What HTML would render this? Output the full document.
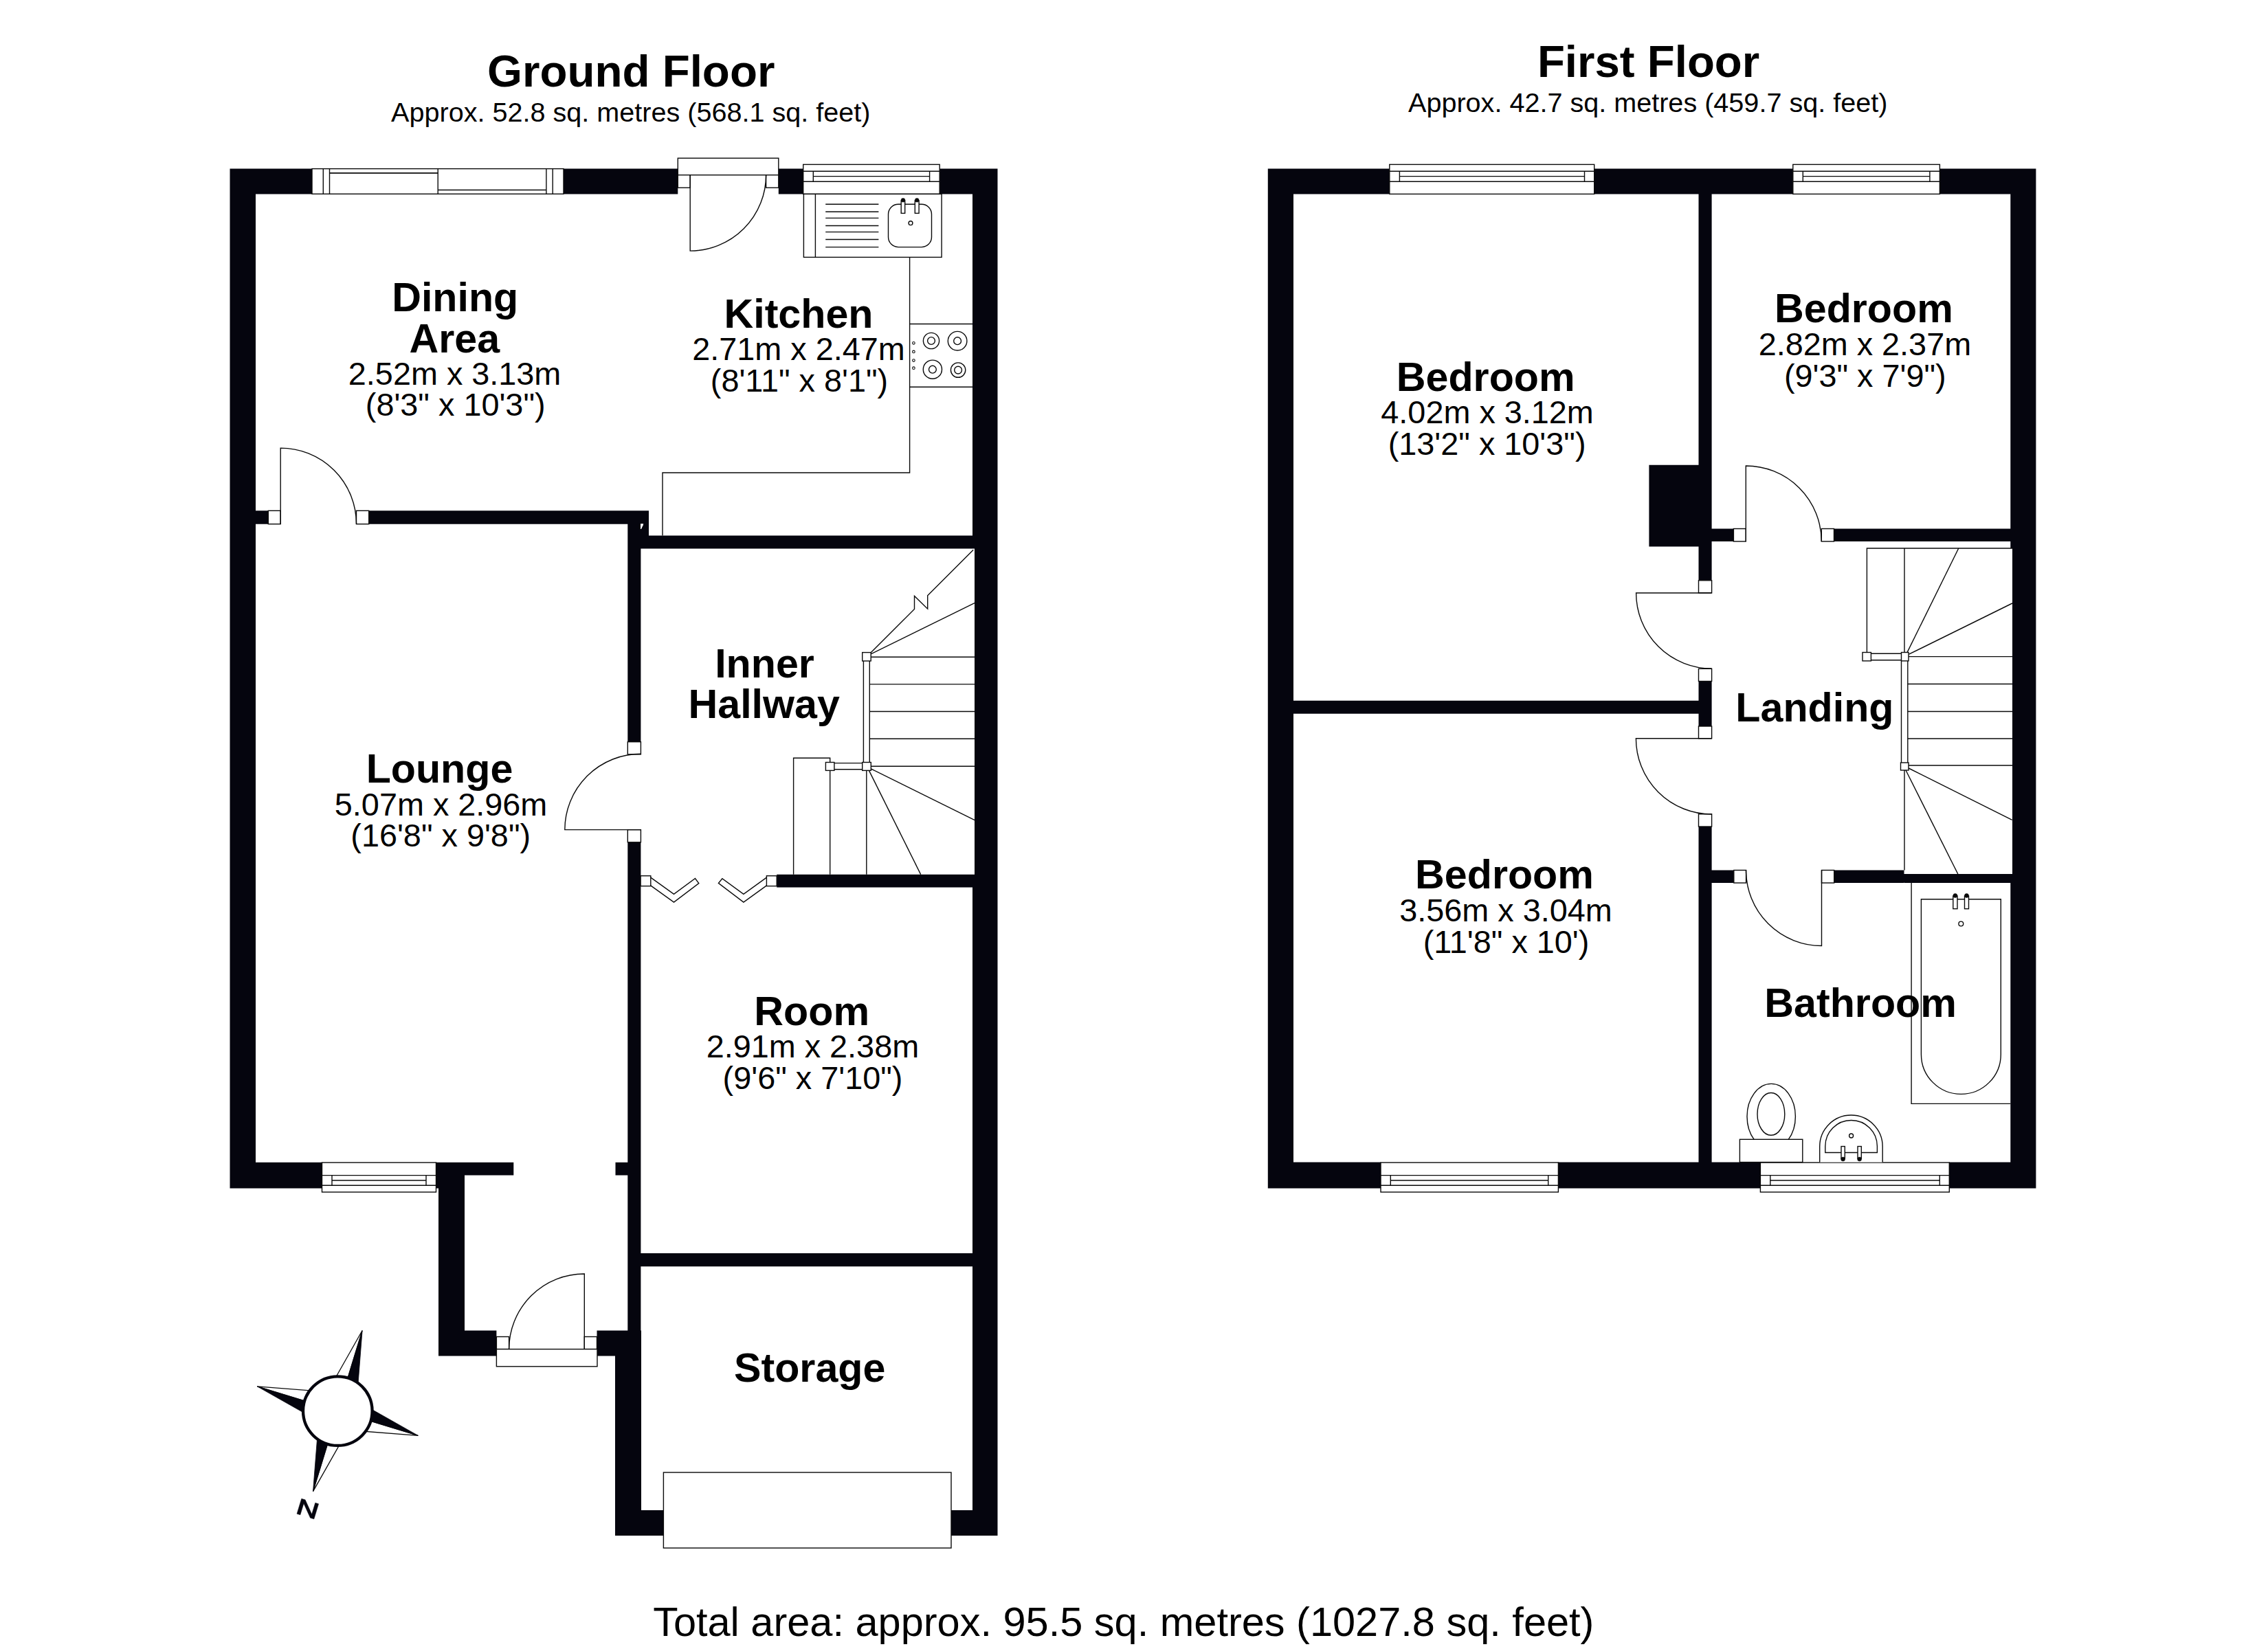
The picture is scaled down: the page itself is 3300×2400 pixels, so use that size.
<!DOCTYPE html>
<html><head><meta charset="utf-8"><title>Floor Plan</title>
<style>
html,body{margin:0;padding:0;background:#fff;}
body{width:3300px;height:2400px;overflow:hidden;}
svg{display:block;}
text{font-family:"Liberation Sans",sans-serif;fill:#000;}
</style></head><body>
<svg width="3300" height="2400" viewBox="0 0 3300 2400">
<rect width="3300" height="2400" fill="#fff"/>
<path d="M334.5 245.5H454.0V282.4H334.5Z M820.0 245.5H986.3V282.4H820.0Z M1132.8 245.5H1168.7V282.4H1132.8Z M1367.2 245.5H1451.5V282.4H1367.2Z M334.5 245.5H372.0V1729.4H334.5Z M1415.0 245.5H1451.5V798.5H1415.0Z M1418.0 798.5H1451.5V1291.5H1418.0Z M1415.0 1291.5H1451.5V2235.0H1415.0Z M334.5 1691.8H468.5V1729.4H334.5Z M634.5 1691.8H747.3V1710.6H634.5Z M634.5 1691.8H676.0V1729.4H634.5Z M638.0 1691.8H676.0V1973.6H638.0Z M638.0 1936.4H722.4V1973.6H638.0Z M868.5 1936.4H913.3V1973.6H868.5Z M895.0 1936.4H933.0V2235.0H895.0Z M895.5 1691.8H913.3V1710.6H895.5Z M895.0 2198.0H1451.5V2235.0H895.0Z M372.0 743.3H390.3V762.7H372.0Z M536.7 743.3H944.0V762.7H536.7Z M913.3 743.3H944.0V798.5H913.3Z M932.0 779.5H1418.0V798.5H932.0Z M913.3 743.3H932.4V1079.7H913.3Z M913.3 1225.8H932.4V1936.4H913.3Z M1130.2 1272.7H1418.0V1291.4H1130.2Z M932.0 1824.0H1415.0V1843.3H932.0Z M1844.8 245.5H2021.8V282.4H1844.8Z M2319.7 245.5H2608.8V282.4H2319.7Z M2822.4 245.5H2962.4V282.4H2822.4Z M1844.8 245.5H1882.0V1729.4H1844.8Z M2925.3 245.5H2962.4V798.0H2925.3Z M2928.0 798.0H2962.4V1272.0H2928.0Z M2925.3 1272.0H2962.4V1729.4H2925.3Z M1844.8 1691.5H2009.0V1729.4H1844.8Z M2267.4 1691.5H2561.4V1729.4H2267.4Z M2836.3 1691.5H2962.4V1729.4H2836.3Z M2471.5 282.4H2490.6V844.8H2471.5Z M2471.5 991.5H2490.6V1057.0H2471.5Z M2471.5 1203.0H2490.6V1691.5H2471.5Z M2399.4 676.7H2471.5V795.5H2399.4Z M2490.6 769.5H2522.4V788.0H2490.6Z M2668.5 769.5H2926.0V788.0H2668.5Z M1882.0 1019.7H2471.5V1038.8H1882.0Z M2490.6 1266.5H2522.8V1285.0H2490.6Z M2668.7 1266.5H2770.5V1285.0H2668.7Z M2770.5 1272.0H2928.0V1285.0H2770.5Z" fill="#05050e"/>
<rect x="390.3" y="743.3" width="17.9" height="19.4" fill="#fff" stroke="#0a0a0a" stroke-width="1.4"/>
<rect x="518.5" y="743.3" width="18.2" height="19.4" fill="#fff" stroke="#0a0a0a" stroke-width="1.4"/>
<rect x="913.3" y="1079.7" width="19.1" height="18.2" fill="#fff" stroke="#0a0a0a" stroke-width="1.4"/>
<rect x="913.3" y="1207.6" width="19.1" height="18.2" fill="#fff" stroke="#0a0a0a" stroke-width="1.4"/>
<rect x="932.1" y="1274.7" width="14.7" height="14.9" fill="#fff" stroke="#0a0a0a" stroke-width="1.4"/>
<rect x="1115.4" y="1274.7" width="14.8" height="14.9" fill="#fff" stroke="#0a0a0a" stroke-width="1.4"/>
<rect x="986.3" y="230.2" width="146.5" height="24.5" fill="#fff" stroke="#0a0a0a" stroke-width="1.4"/>
<rect x="986.3" y="254.7" width="17.9" height="18.5" fill="#fff" stroke="#0a0a0a" stroke-width="1.4"/>
<rect x="1114.6" y="254.7" width="18.2" height="18.5" fill="#fff" stroke="#0a0a0a" stroke-width="1.4"/>
<rect x="722.4" y="1945.5" width="18.2" height="18.1" fill="#fff" stroke="#0a0a0a" stroke-width="1.4"/>
<rect x="850.3" y="1945.5" width="18.2" height="18.1" fill="#fff" stroke="#0a0a0a" stroke-width="1.4"/>
<rect x="722.4" y="1963.6" width="146.6" height="25.2" fill="#fff" stroke="#0a0a0a" stroke-width="1.4"/>
<path d="M1004.2 254.7 L1004.2 365.1 A110.4 110.4 0 0 0 1114.6 254.7" fill="none" stroke="#0a0a0a" stroke-width="1.4"/>
<path d="M408.2 762.7 L408.2 652.1 A110.4 110.4 0 0 1 518.5 762.7" fill="none" stroke="#0a0a0a" stroke-width="1.4"/>
<path d="M932.4 1207.6 L821.8 1207.6 A110.4 110.4 0 0 1 932.4 1097.3" fill="none" stroke="#0a0a0a" stroke-width="1.4"/>
<path d="M850.3 1963.6 L850.3 1854.0 A109.6 109.6 0 0 0 740.6 1963.6" fill="none" stroke="#0a0a0a" stroke-width="1.4"/>
<path d="M946.8 1277.1 L980.5 1301.4 L1011.5 1278.5 L1016.8 1285.6 L980.5 1313.1 L946.8 1288.9" fill="none" stroke="#0a0a0a" stroke-width="1.4"/>
<path d="M1115.4 1277.1 L1081.9 1301.4 L1050.9 1278.8 L1045.4 1285.4 L1081.9 1313.1 L1115.4 1288.9" fill="none" stroke="#0a0a0a" stroke-width="1.4"/>
<rect x="454.0" y="245.6" width="366.0" height="36.7" fill="#fff" stroke="#0a0a0a" stroke-width="1.4"/>
<path d="M470.3 245.6 L470.3 282.3" fill="none" stroke="#0a0a0a" stroke-width="1.4"/>
<path d="M479.5 245.6 L479.5 282.3" fill="none" stroke="#0a0a0a" stroke-width="1.4"/>
<path d="M637.2 245.6 L637.2 282.3" fill="none" stroke="#0a0a0a" stroke-width="1.4"/>
<path d="M794.9 245.6 L794.9 282.3" fill="none" stroke="#0a0a0a" stroke-width="1.4"/>
<path d="M804.2 245.6 L804.2 282.3" fill="none" stroke="#0a0a0a" stroke-width="1.4"/>
<path d="M479.5 251.8 L637.2 251.8" fill="none" stroke="#0a0a0a" stroke-width="1.8"/>
<path d="M637.2 276.5 L794.9 276.5" fill="none" stroke="#0a0a0a" stroke-width="1.6"/>
<rect x="1168.7" y="239.4" width="198.5" height="43.0" fill="#fff" stroke="#0a0a0a" stroke-width="1.4"/>
<path d="M1168.7 249.3 L1367.2 249.3" fill="none" stroke="#0a0a0a" stroke-width="1.4"/>
<path d="M1168.7 264.3 L1367.2 264.3" fill="none" stroke="#0a0a0a" stroke-width="1.4"/>
<path d="M1183.3 249.3 L1183.3 264.3" fill="none" stroke="#0a0a0a" stroke-width="1.4"/>
<path d="M1352.6 249.3 L1352.6 264.3" fill="none" stroke="#0a0a0a" stroke-width="1.4"/>
<path d="M1183.3 256.6 L1352.6 256.6" fill="none" stroke="#0a0a0a" stroke-width="1.4"/>
<rect x="468.5" y="1692.0" width="166.0" height="43.0" fill="#fff" stroke="#0a0a0a" stroke-width="1.4"/>
<path d="M468.5 1710.6 L634.5 1710.6" fill="none" stroke="#0a0a0a" stroke-width="1.4"/>
<path d="M468.5 1725.3 L634.5 1725.3" fill="none" stroke="#0a0a0a" stroke-width="1.4"/>
<path d="M483.0 1710.6 L483.0 1725.3" fill="none" stroke="#0a0a0a" stroke-width="1.4"/>
<path d="M620.0 1710.6 L620.0 1725.3" fill="none" stroke="#0a0a0a" stroke-width="1.4"/>
<path d="M483.0 1718.0 L620.0 1718.0" fill="none" stroke="#0a0a0a" stroke-width="1.4"/>
<rect x="965.4" y="2143.0" width="418.6" height="110.0" fill="#fff" stroke="#0a0a0a" stroke-width="1.4"/>
<rect x="1169.4" y="282.4" width="200.7" height="92.0" fill="#fff" stroke="#0a0a0a" stroke-width="1.4"/>
<path d="M1186.4 282.4 L1186.4 374.4" fill="none" stroke="#0a0a0a" stroke-width="1.4"/>
<path d="M1201.2 297.3 L1278.4 297.3" fill="none" stroke="#0a0a0a" stroke-width="1.4"/>
<path d="M1201.2 308.3 L1278.4 308.3" fill="none" stroke="#0a0a0a" stroke-width="1.4"/>
<path d="M1201.2 317.4 L1278.4 317.4" fill="none" stroke="#0a0a0a" stroke-width="1.4"/>
<path d="M1201.2 328.5 L1278.4 328.5" fill="none" stroke="#0a0a0a" stroke-width="1.4"/>
<path d="M1201.2 337.6 L1278.4 337.6" fill="none" stroke="#0a0a0a" stroke-width="1.4"/>
<path d="M1201.2 348.5 L1278.4 348.5" fill="none" stroke="#0a0a0a" stroke-width="1.4"/>
<path d="M1201.2 359.6 L1278.4 359.6" fill="none" stroke="#0a0a0a" stroke-width="1.4"/>
<rect x="1292.5" y="297.3" width="63" height="62.3" rx="14.6" fill="#fff" stroke="#0a0a0a" stroke-width="1.4"/>
<rect x="1311.2" y="292.0" width="5.5" height="18.4" fill="#fff" stroke="#0a0a0a" stroke-width="1.4"/>
<rect x="1331.3" y="292.0" width="5.8" height="18.4" fill="#fff" stroke="#0a0a0a" stroke-width="1.4"/>
<circle cx="1314.0" cy="291.3" r="2.9" fill="#0a0a0a" stroke="#0a0a0a" stroke-width="0.5"/>
<circle cx="1334.2" cy="291.3" r="2.9" fill="#0a0a0a" stroke="#0a0a0a" stroke-width="0.5"/>
<circle cx="1325.0" cy="324.7" r="2.9" fill="none" stroke="#0a0a0a" stroke-width="1.4"/>
<path d="M1323.6 374.4 L1323.6 688.0 L964.0 688.0 L964.0 779.5" fill="none" stroke="#0a0a0a" stroke-width="1.4"/>
<path d="M1323.6 471.5 L1415.0 471.5" fill="none" stroke="#0a0a0a" stroke-width="1.4"/>
<path d="M1323.6 563.3 L1415.0 563.3" fill="none" stroke="#0a0a0a" stroke-width="1.4"/>
<circle cx="1355.0" cy="496.0" r="11.6" fill="none" stroke="#0a0a0a" stroke-width="1.4"/>
<circle cx="1355.0" cy="496.0" r="5.4" fill="none" stroke="#0a0a0a" stroke-width="1.4"/>
<circle cx="1393.1" cy="496.2" r="13.8" fill="none" stroke="#0a0a0a" stroke-width="1.4"/>
<circle cx="1393.1" cy="496.2" r="5.4" fill="none" stroke="#0a0a0a" stroke-width="1.4"/>
<circle cx="1356.9" cy="537.7" r="13.6" fill="none" stroke="#0a0a0a" stroke-width="1.4"/>
<circle cx="1356.9" cy="537.7" r="5.4" fill="none" stroke="#0a0a0a" stroke-width="1.4"/>
<circle cx="1394.1" cy="538.6" r="10.7" fill="none" stroke="#0a0a0a" stroke-width="1.4"/>
<circle cx="1394.1" cy="538.6" r="5.4" fill="none" stroke="#0a0a0a" stroke-width="1.4"/>
<circle cx="1329.4" cy="499.3" r="1.8" fill="none" stroke="#0a0a0a" stroke-width="1.1"/>
<circle cx="1329.4" cy="511.9" r="1.8" fill="none" stroke="#0a0a0a" stroke-width="1.1"/>
<circle cx="1329.4" cy="524.6" r="1.8" fill="none" stroke="#0a0a0a" stroke-width="1.1"/>
<circle cx="1329.4" cy="535.7" r="1.8" fill="none" stroke="#0a0a0a" stroke-width="1.1"/>
<path d="M1416.2 800.2 L1349.7 866.7 L1349.7 886.2 L1330.5 867.5 L1330.5 886.5 L1267.2 949.8" fill="none" stroke="#0a0a0a" stroke-width="1.4"/>
<path d="M1418.1 877.6 L1267.2 951.8" fill="none" stroke="#0a0a0a" stroke-width="1.4"/>
<rect x="1254.7" y="949.6" width="12.5" height="12.4" fill="#fff" stroke="#0a0a0a" stroke-width="1.4"/>
<path d="M1256.4 962.0 L1256.4 1109.5" fill="none" stroke="#0a0a0a" stroke-width="1.4"/>
<path d="M1265.3 962.0 L1265.3 1109.5" fill="none" stroke="#0a0a0a" stroke-width="1.4"/>
<path d="M1267.2 956.2 L1418.0 956.2" fill="none" stroke="#0a0a0a" stroke-width="1.4"/>
<path d="M1265.3 995.9 L1418.0 995.9" fill="none" stroke="#0a0a0a" stroke-width="1.4"/>
<path d="M1265.3 1035.5 L1418.0 1035.5" fill="none" stroke="#0a0a0a" stroke-width="1.4"/>
<path d="M1265.3 1075.3 L1418.0 1075.3" fill="none" stroke="#0a0a0a" stroke-width="1.4"/>
<path d="M1267.3 1115.3 L1418.0 1115.3" fill="none" stroke="#0a0a0a" stroke-width="1.4"/>
<path d="M1213.9 1110.6 L1254.7 1110.6" fill="none" stroke="#0a0a0a" stroke-width="1.4"/>
<path d="M1213.9 1119.7 L1254.7 1119.7" fill="none" stroke="#0a0a0a" stroke-width="1.4"/>
<rect x="1254.7" y="1109.5" width="12.6" height="11.9" fill="#fff" stroke="#0a0a0a" stroke-width="1.4"/>
<rect x="1201.4" y="1109.5" width="12.5" height="11.9" fill="#fff" stroke="#0a0a0a" stroke-width="1.4"/>
<path d="M1260.8 1121.4 L1260.8 1272.7" fill="none" stroke="#0a0a0a" stroke-width="1.4"/>
<path d="M1267.3 1119.0 L1418.2 1193.6" fill="none" stroke="#0a0a0a" stroke-width="1.4"/>
<path d="M1264.4 1121.4 L1339.7 1272.7" fill="none" stroke="#0a0a0a" stroke-width="1.4"/>
<path d="M1154.6 1272.7 L1154.6 1103.2 L1207.7 1103.2 L1207.7 1109.5" fill="none" stroke="#0a0a0a" stroke-width="1.4"/>
<path d="M1207.7 1121.4 L1207.7 1272.7" fill="none" stroke="#0a0a0a" stroke-width="1.4"/>
<path d="M932 762.3 L936.2 762.3 L935.8 764.2 L933 770 L932 770 Z" fill="#fff" stroke="none" stroke-width="0"/>
<path d="M527.09 1936.55 L476.56 2025.88 L374.25 2017.81 L491.30 2053.60 Z" fill="#fff" stroke="#0a0a0a" stroke-width="1.3"/>
<path d="M608.35 2089.39 L506.04 2081.32 L455.51 2170.65 L491.30 2053.60 Z" fill="#fff" stroke="#0a0a0a" stroke-width="1.3"/>
<path d="M527.09 1936.55 L519.02 2038.86 L608.35 2089.39 L491.30 2053.60 Z" fill="#05050e" stroke="#05050e" stroke-width="0.8"/>
<path d="M455.51 2170.65 L463.58 2068.34 L374.25 2017.81 L491.30 2053.60 Z" fill="#05050e" stroke="#05050e" stroke-width="0.8"/>
<circle cx="491.3" cy="2053.6" r="50.3" fill="#fff" stroke="#05050e" stroke-width="4.3"/>
<path d="M432.01 2203.20 L438.73 2181.20 L444.09 2182.84 L453.66 2203.86 L458.72 2187.31 L463.59 2188.80 L456.87 2210.80 L451.51 2209.16 L441.94 2188.14 L436.88 2204.69 Z" fill="#05050e" stroke="#05050e" stroke-width="0.5"/>
<rect x="2471.5" y="844.8" width="19.1" height="18.2" fill="#fff" stroke="#0a0a0a" stroke-width="1.4"/>
<rect x="2471.5" y="973.3" width="19.1" height="18.2" fill="#fff" stroke="#0a0a0a" stroke-width="1.4"/>
<rect x="2471.5" y="1057.0" width="19.1" height="17.8" fill="#fff" stroke="#0a0a0a" stroke-width="1.4"/>
<rect x="2471.5" y="1184.8" width="19.1" height="18.2" fill="#fff" stroke="#0a0a0a" stroke-width="1.4"/>
<rect x="2522.4" y="769.5" width="17.9" height="18.5" fill="#fff" stroke="#0a0a0a" stroke-width="1.4"/>
<rect x="2650.3" y="769.5" width="18.2" height="18.5" fill="#fff" stroke="#0a0a0a" stroke-width="1.4"/>
<rect x="2522.8" y="1266.5" width="17.8" height="18.5" fill="#fff" stroke="#0a0a0a" stroke-width="1.4"/>
<rect x="2650.5" y="1266.5" width="18.2" height="18.5" fill="#fff" stroke="#0a0a0a" stroke-width="1.4"/>
<path d="M2490.6 863.0 L2380.6 863.0 A110.0 110.0 0 0 0 2490.6 973.0" fill="none" stroke="#0a0a0a" stroke-width="1.4"/>
<path d="M2490.6 1074.8 L2380.4 1074.8 A110.2 110.2 0 0 0 2490.6 1185.0" fill="none" stroke="#0a0a0a" stroke-width="1.4"/>
<path d="M2540.3 788.0 L2540.3 678.0 A110.0 110.0 0 0 1 2650.3 788.0" fill="none" stroke="#0a0a0a" stroke-width="1.4"/>
<path d="M2650.5 1266.5 L2650.5 1376.5 A110.0 110.0 0 0 1 2540.5 1266.5" fill="none" stroke="#0a0a0a" stroke-width="1.4"/>
<rect x="2021.8" y="239.4" width="297.9" height="43.0" fill="#fff" stroke="#0a0a0a" stroke-width="1.4"/>
<path d="M2021.8 249.3 L2319.7 249.3" fill="none" stroke="#0a0a0a" stroke-width="1.4"/>
<path d="M2021.8 264.3 L2319.7 264.3" fill="none" stroke="#0a0a0a" stroke-width="1.4"/>
<path d="M2036.4 249.3 L2036.4 264.3" fill="none" stroke="#0a0a0a" stroke-width="1.4"/>
<path d="M2305.5 249.3 L2305.5 264.3" fill="none" stroke="#0a0a0a" stroke-width="1.4"/>
<path d="M2036.4 256.6 L2305.5 256.6" fill="none" stroke="#0a0a0a" stroke-width="1.4"/>
<rect x="2608.8" y="239.4" width="213.6" height="43.0" fill="#fff" stroke="#0a0a0a" stroke-width="1.4"/>
<path d="M2608.8 249.3 L2822.4 249.3" fill="none" stroke="#0a0a0a" stroke-width="1.4"/>
<path d="M2608.8 264.3 L2822.4 264.3" fill="none" stroke="#0a0a0a" stroke-width="1.4"/>
<path d="M2623.3 249.3 L2623.3 264.3" fill="none" stroke="#0a0a0a" stroke-width="1.4"/>
<path d="M2807.9 249.3 L2807.9 264.3" fill="none" stroke="#0a0a0a" stroke-width="1.4"/>
<path d="M2623.3 256.6 L2807.9 256.6" fill="none" stroke="#0a0a0a" stroke-width="1.4"/>
<rect x="2009.0" y="1692.0" width="258.4" height="43.0" fill="#fff" stroke="#0a0a0a" stroke-width="1.4"/>
<path d="M2009.0 1710.6 L2267.4 1710.6" fill="none" stroke="#0a0a0a" stroke-width="1.4"/>
<path d="M2009.0 1725.3 L2267.4 1725.3" fill="none" stroke="#0a0a0a" stroke-width="1.4"/>
<path d="M2023.3 1710.6 L2023.3 1725.3" fill="none" stroke="#0a0a0a" stroke-width="1.4"/>
<path d="M2252.7 1710.6 L2252.7 1725.3" fill="none" stroke="#0a0a0a" stroke-width="1.4"/>
<path d="M2023.3 1718.0 L2252.7 1718.0" fill="none" stroke="#0a0a0a" stroke-width="1.4"/>
<rect x="2561.4" y="1692.0" width="274.9" height="43.0" fill="#fff" stroke="#0a0a0a" stroke-width="1.4"/>
<path d="M2561.4 1710.6 L2836.3 1710.6" fill="none" stroke="#0a0a0a" stroke-width="1.4"/>
<path d="M2561.4 1725.3 L2836.3 1725.3" fill="none" stroke="#0a0a0a" stroke-width="1.4"/>
<path d="M2575.8 1710.6 L2575.8 1725.3" fill="none" stroke="#0a0a0a" stroke-width="1.4"/>
<path d="M2822.3 1710.6 L2822.3 1725.3" fill="none" stroke="#0a0a0a" stroke-width="1.4"/>
<path d="M2575.8 1718.0 L2822.3 1718.0" fill="none" stroke="#0a0a0a" stroke-width="1.4"/>
<path d="M2716.4 949.5 L2716.4 798.0 L2928.0 798.0" fill="none" stroke="#0a0a0a" stroke-width="1.4"/>
<path d="M2771.0 798.0 L2771.0 949.5" fill="none" stroke="#0a0a0a" stroke-width="1.4"/>
<path d="M2774.6 950.4 L2849.8 798.0" fill="none" stroke="#0a0a0a" stroke-width="1.4"/>
<path d="M2777.6 952.2 L2928.0 878.0" fill="none" stroke="#0a0a0a" stroke-width="1.4"/>
<path d="M2722.4 951.2 L2766.5 951.2" fill="none" stroke="#0a0a0a" stroke-width="1.4"/>
<path d="M2722.4 960.7 L2766.5 960.7" fill="none" stroke="#0a0a0a" stroke-width="1.4"/>
<rect x="2710.0" y="949.5" width="12.4" height="12.4" fill="#fff" stroke="#0a0a0a" stroke-width="1.4"/>
<rect x="2766.5" y="949.5" width="10.5" height="12.4" fill="#fff" stroke="#0a0a0a" stroke-width="1.4"/>
<path d="M2777.0 955.6 L2928.0 955.6" fill="none" stroke="#0a0a0a" stroke-width="1.4"/>
<path d="M2766.5 961.9 L2766.5 1110.0" fill="none" stroke="#0a0a0a" stroke-width="1.4"/>
<path d="M2775.8 961.9 L2775.8 1110.0" fill="none" stroke="#0a0a0a" stroke-width="1.4"/>
<path d="M2775.8 995.5 L2928.0 995.5" fill="none" stroke="#0a0a0a" stroke-width="1.4"/>
<path d="M2775.8 1035.5 L2928.0 1035.5" fill="none" stroke="#0a0a0a" stroke-width="1.4"/>
<path d="M2775.8 1075.0 L2928.0 1075.0" fill="none" stroke="#0a0a0a" stroke-width="1.4"/>
<path d="M2777.0 1114.0 L2928.0 1114.0" fill="none" stroke="#0a0a0a" stroke-width="1.4"/>
<rect x="2765.5" y="1110.0" width="11.5" height="11.0" fill="#fff" stroke="#0a0a0a" stroke-width="1.4"/>
<path d="M2771.0 1121.0 L2771.0 1266.5" fill="none" stroke="#0a0a0a" stroke-width="1.4"/>
<path d="M2777.0 1118.0 L2927.6 1193.3" fill="none" stroke="#0a0a0a" stroke-width="1.4"/>
<path d="M2773.0 1121.0 L2848.8 1272.0" fill="none" stroke="#0a0a0a" stroke-width="1.4"/>
<path d="M2781.1 1285.0 L2781.1 1606.4 L2925.3 1606.4" fill="none" stroke="#0a0a0a" stroke-width="1.4"/>
<path d="M2795.4 1308.8 L2911.3 1308.8 L2911.3 1534.4 A57.95 57.95 0 0 1 2795.4 1534.4 Z" fill="none" stroke="#0a0a0a" stroke-width="1.4"/>
<rect x="2841.8" y="1304.0" width="6.2" height="18.7" fill="#fff" stroke="#0a0a0a" stroke-width="1.4"/>
<rect x="2858.5" y="1304.0" width="6.0" height="18.7" fill="#fff" stroke="#0a0a0a" stroke-width="1.4"/>
<circle cx="2844.9" cy="1303.5" r="3.0" fill="#0a0a0a" stroke="#0a0a0a" stroke-width="0.5"/>
<circle cx="2861.5" cy="1303.5" r="3.0" fill="#0a0a0a" stroke="#0a0a0a" stroke-width="0.5"/>
<circle cx="2853.3" cy="1344.5" r="3.4" fill="none" stroke="#0a0a0a" stroke-width="1.4"/>
<ellipse cx="2577.2" cy="1625.0" rx="35.2" ry="47.6" fill="#fff" stroke="#0a0a0a" stroke-width="1.4"/>
<rect x="2531.4" y="1658.3" width="91.4" height="33.2" fill="#fff" stroke="#0a0a0a" stroke-width="1.4"/>
<ellipse cx="2576.9" cy="1621.4" rx="19.9" ry="30.9" fill="none" stroke="#0a0a0a" stroke-width="1.4"/>
<path d="M2647.7 1691.5 L2647.7 1668.75 A45.75 45.75 0 0 1 2739.2 1668.75 L2739.2 1691.5" fill="#fff" stroke="#0a0a0a" stroke-width="1.4"/>
<path d="M2655.8 1677.5 L2655.8 1668.2 A37.8 37.8 0 0 1 2731.4 1668.2 L2731.4 1677.5 Z" fill="none" stroke="#0a0a0a" stroke-width="1.4"/>
<circle cx="2693.6" cy="1653.0" r="3.0" fill="none" stroke="#0a0a0a" stroke-width="1.4"/>
<rect x="2679.0" y="1668.5" width="5.3" height="17.5" fill="#fff" stroke="#0a0a0a" stroke-width="1.4"/>
<rect x="2703.0" y="1668.5" width="5.3" height="17.5" fill="#fff" stroke="#0a0a0a" stroke-width="1.4"/>
<circle cx="2681.6" cy="1687.0" r="3.0" fill="#0a0a0a" stroke="#0a0a0a" stroke-width="0.5"/>
<circle cx="2705.6" cy="1687.0" r="3.0" fill="#0a0a0a" stroke="#0a0a0a" stroke-width="0.5"/>
<text x="918.2" y="126.0" font-size="65.5" font-weight="bold" text-anchor="middle" >Ground Floor</text>
<text x="917.8" y="177.3" font-size="39.6" font-weight="normal" text-anchor="middle" >Approx. 52.8 sq. metres (568.1 sq. feet)</text>
<text x="2398.6" y="112.1" font-size="65.4" font-weight="bold" text-anchor="middle" >First Floor</text>
<text x="2397.7" y="163.0" font-size="39.6" font-weight="normal" text-anchor="middle" >Approx. 42.7 sq. metres (459.7 sq. feet)</text>
<text x="662.2" y="452.9" font-size="59.2" font-weight="bold" text-anchor="middle" >Dining</text>
<text x="661.4" y="512.9" font-size="59.2" font-weight="bold" text-anchor="middle" >Area</text>
<text x="661.6" y="559.6" font-size="46.8" font-weight="normal" text-anchor="middle" >2.52m x 3.13m</text>
<text x="662.7" y="605.4" font-size="46.8" font-weight="normal" text-anchor="middle" >(8'3&quot; x 10'3&quot;)</text>
<text x="1162.0" y="477.0" font-size="59.2" font-weight="bold" text-anchor="middle" >Kitchen</text>
<text x="1162.0" y="523.6" font-size="46.8" font-weight="normal" text-anchor="middle" >2.71m x 2.47m</text>
<text x="1163.0" y="569.6" font-size="46.8" font-weight="normal" text-anchor="middle" >(8'11&quot; x 8'1&quot;)</text>
<text x="639.5" y="1139.0" font-size="59.2" font-weight="bold" text-anchor="middle" >Lounge</text>
<text x="641.6" y="1186.5" font-size="46.8" font-weight="normal" text-anchor="middle" >5.07m x 2.96m</text>
<text x="641.2" y="1232.2" font-size="46.8" font-weight="normal" text-anchor="middle" >(16'8&quot; x 9'8&quot;)</text>
<text x="1112.5" y="985.7" font-size="59.2" font-weight="bold" text-anchor="middle" >Inner</text>
<text x="1111.7" y="1044.6" font-size="59.2" font-weight="bold" text-anchor="middle" >Hallway</text>
<text x="1181.2" y="1491.8" font-size="59.2" font-weight="bold" text-anchor="middle" >Room</text>
<text x="1182.4" y="1539.4" font-size="46.8" font-weight="normal" text-anchor="middle" >2.91m x 2.38m</text>
<text x="1182.5" y="1585.2" font-size="46.8" font-weight="normal" text-anchor="middle" >(9'6&quot; x 7'10&quot;)</text>
<text x="1178.2" y="2011.4" font-size="59.2" font-weight="bold" text-anchor="middle" >Storage</text>
<text x="2161.7" y="569.0" font-size="59.2" font-weight="bold" text-anchor="middle" >Bedroom</text>
<text x="2164.1" y="615.8" font-size="46.8" font-weight="normal" text-anchor="middle" >4.02m x 3.12m</text>
<text x="2163.6" y="661.8" font-size="46.8" font-weight="normal" text-anchor="middle" >(13'2&quot; x 10'3&quot;)</text>
<text x="2711.9" y="468.8" font-size="59.2" font-weight="bold" text-anchor="middle" >Bedroom</text>
<text x="2713.4" y="516.7" font-size="46.8" font-weight="normal" text-anchor="middle" >2.82m x 2.37m</text>
<text x="2713.8" y="562.5" font-size="46.8" font-weight="normal" text-anchor="middle" >(9'3&quot; x 7'9&quot;)</text>
<text x="2640.4" y="1050.0" font-size="59.2" font-weight="bold" text-anchor="middle" >Landing</text>
<text x="2189.0" y="1293.0" font-size="59.2" font-weight="bold" text-anchor="middle" >Bedroom</text>
<text x="2191.0" y="1341.0" font-size="46.8" font-weight="normal" text-anchor="middle" >3.56m x 3.04m</text>
<text x="2191.5" y="1387.0" font-size="46.8" font-weight="normal" text-anchor="middle" >(11'8&quot; x 10')</text>
<text x="2707.1" y="1480.3" font-size="59.2" font-weight="bold" text-anchor="middle" >Bathroom</text>
<text x="1634.8" y="2380.8" font-size="59.5" font-weight="normal" text-anchor="middle" >Total area: approx. 95.5 sq. metres (1027.8 sq. feet)</text>
</svg>
</body></html>
